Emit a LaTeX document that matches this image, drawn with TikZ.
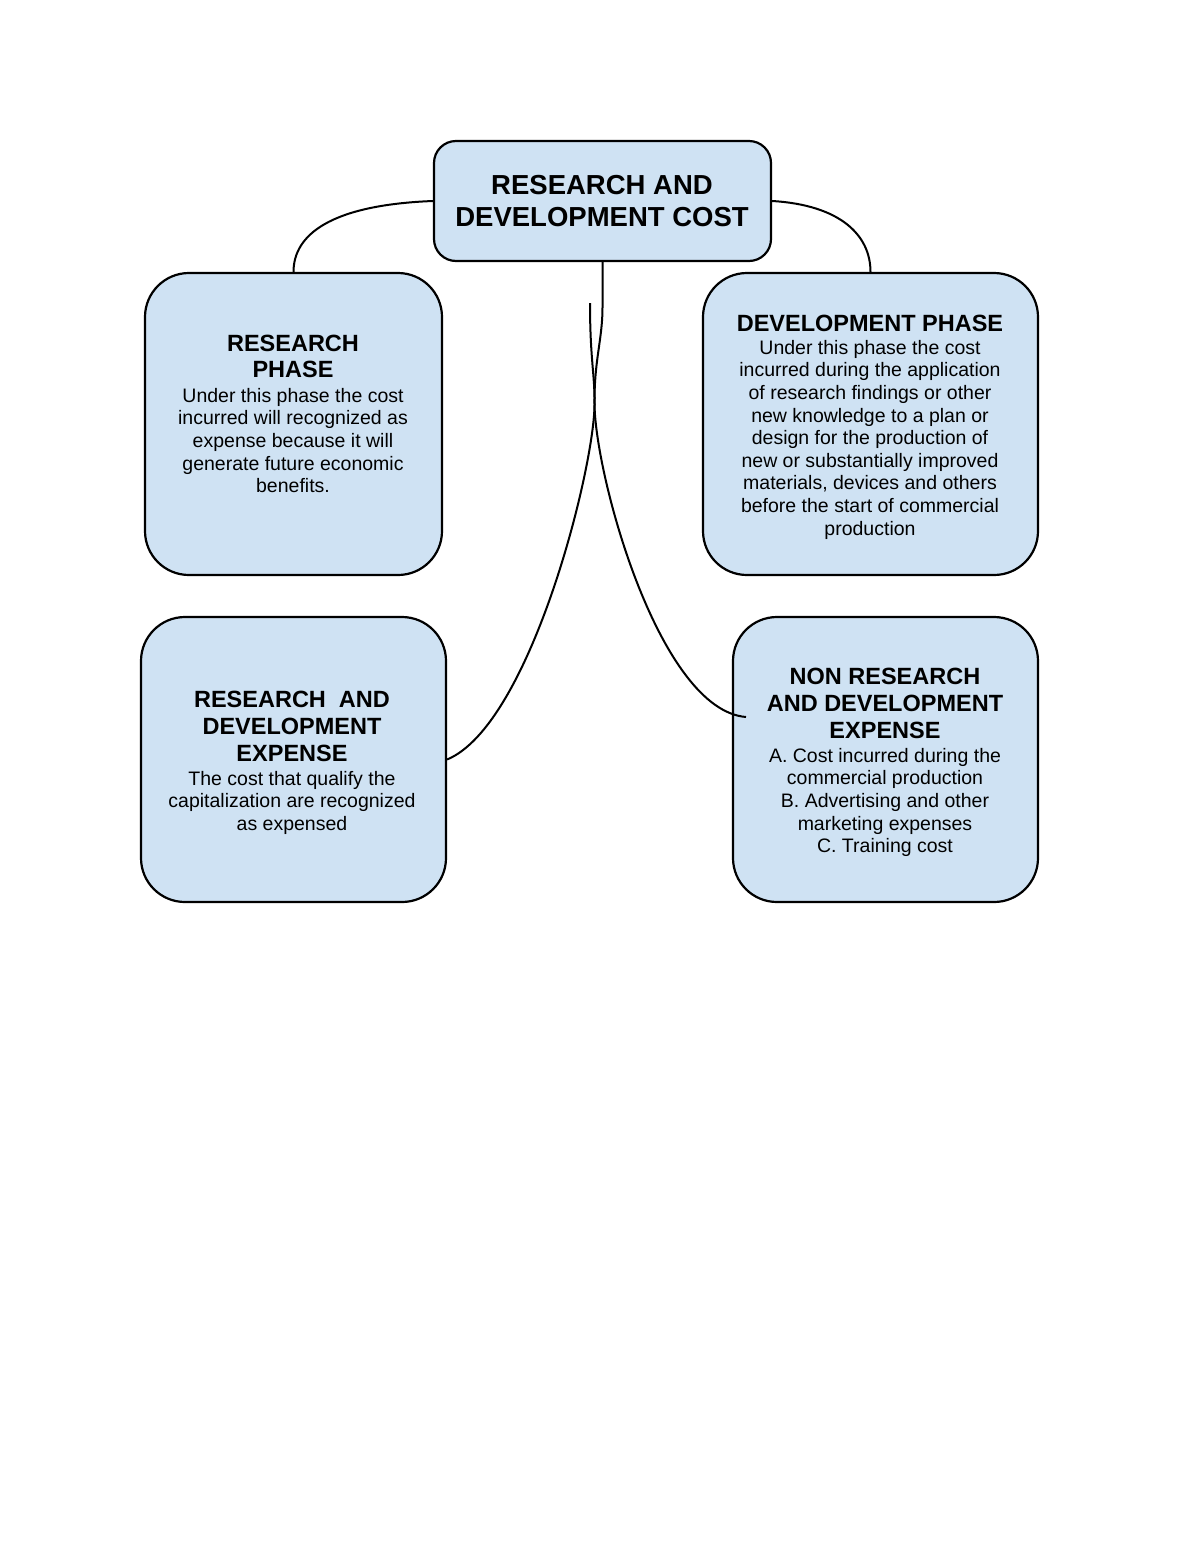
\documentclass[tikz,border=0pt]{standalone}
\usepackage{fontspec}
\setmainfont{Liberation Sans}
\definecolor{boxblue}{RGB}{207,226,243}
\begin{document}
\begin{tikzpicture}[x=1pt,y=-1pt,
  box/.style={draw=black,line width=2.2pt,fill=boxblue,rounded corners=44pt,inner sep=0pt},
  topbox/.style={box,rounded corners=22pt},
  head/.style={font=\fontsize{23.5}{26.5}\selectfont\bfseries,align=center,anchor=north,inner sep=0pt},
  tophead/.style={font=\fontsize{27.5}{32}\selectfont\bfseries,align=center,anchor=north,inner sep=0pt},
  body/.style={font=\fontsize{19.5}{22.6}\selectfont,align=center,anchor=north,inner sep=0pt},
  link/.style={draw=black,line width=2pt}]
\useasboundingbox (0,0) rectangle (1200,1553);
\fill[white] (0,0) rectangle (1200,1553);
% boxes
\node[topbox,minimum width=337pt,minimum height=120pt] (top) at (602.5,201) {};
\node[box,minimum width=297pt,minimum height=302pt] (rp) at (293.5,424) {};
\node[box,minimum width=335pt,minimum height=302pt] (dp) at (870.5,424) {};
\node[box,minimum width=305pt,minimum height=285pt] (rde) at (293.5,759.5) {};
\node[box,minimum width=305pt,minimum height=285pt] (nrd) at (885.5,759.5) {};
% texts
\node[tophead] (topt) at (602,175) {RESEARCH AND\\DEVELOPMENT COST};
\node[head] (rph) at (293,334.6) {RESEARCH\\PHASE};
\node[body] (rpb) at (293,388) {Under this phase the cost\\incurred will recognized as\\expense because it will\\generate future economic\\benefits.};
\node[head] (dph) at (870,314.6) {DEVELOPMENT PHASE};
\node[body] (dpb) at (870,340) {Under this phase the cost\\incurred during the application\\of research findings or other\\new knowledge to a plan or\\design for the production of\\new or substantially improved\\materials, devices and others\\before the start of commercial\\production};
\node[head,font=\fontsize{23.5}{27}\selectfont\bfseries] (rdeh) at (292,690.6) {RESEARCH\ \ AND\\DEVELOPMENT\\EXPENSE};
\node[body] (rdeb) at (292,771) {The cost that qualify the\\capitalization are recognized\\as expensed};
\node[head,font=\fontsize{23.5}{27}\selectfont\bfseries] (nrdh) at (885,667.6) {NON RESEARCH\\AND DEVELOPMENT\\EXPENSE};
\node[body] (nrdb) at (885,748) {A. Cost incurred during the\\commercial production\\B. Advertising and other\\marketing expenses\\C. Training cost};
% connectors
\coordinate (bend) at (602.5,307);
\coordinate (cross) at (594.5,405);
\coordinate (nrdend) at (746,717);
\coordinate (rdestart) at (590,303);
\draw[link] (top.west) .. controls (330,205) and (293.5,235) .. (rp.north);
\draw[link] (top.east) .. controls (840,205) and (870.5,235) .. (dp.north);
\draw[link] (top.south) -- (bend) .. controls (602.5,340) and (594,360) .. (cross)
  .. controls (596,480) and (660,710) .. (nrdend);
\draw[link] (rdestart) .. controls (590,360) and (595,375) .. (cross)
  .. controls (594,470) and (530,725) .. (rde.east);
\end{tikzpicture}
\end{document}
